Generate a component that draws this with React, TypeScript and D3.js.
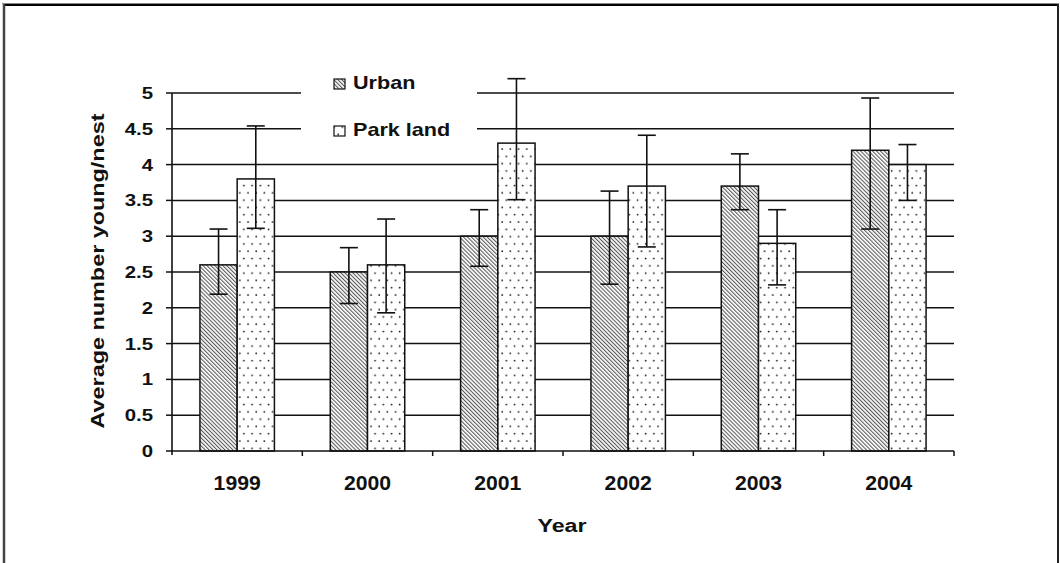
import React from 'react';
import * as d3 from 'd3';

const years = ['1999', '2000', '2001', '2002', '2003', '2004'];
const seriesNames = ['Urban', 'Park land'];
const urbanMean = [2.6, 2.5, 3.0, 3.0, 3.7, 4.2];
const urbanLow = [2.19, 2.06, 2.58, 2.33, 3.37, 3.1];
const urbanHigh = [3.1, 2.84, 3.37, 3.63, 4.15, 4.93];
const parkMean = [3.8, 2.6, 4.3, 3.7, 2.9, 4.0];
const parkLow = [3.11, 1.93, 3.51, 2.85, 2.32, 3.5];
const parkHigh = [4.54, 3.24, 5.2, 4.41, 3.37, 4.28];
const yTicks = [0, 0.5, 1, 1.5, 2, 2.5, 3, 3.5, 4, 4.5, 5];
const yLabels = ['0', '0.5', '1', '1.5', '2', '2.5', '3', '3.5', '4', '4.5', '5'];
const xTitle = 'Year';
const yTitle = 'Average number young/nest';

const W = 1060;
const H = 563;
const FONT = '"Liberation Sans", Arial, sans-serif';

export default function App() {
  const x = d3.scaleBand<string>().domain(years).range([172, 954]).paddingInner(0).paddingOuter(0);
  const xs = d3
    .scaleBand<string>()
    .domain(seriesNames)
    .range([0, x.bandwidth()])
    .paddingInner(0)
    .paddingOuter(0.75);
  const y = d3.scaleLinear().domain([0, 5]).range([451, 93]);

  const series = [
    { name: seriesNames[0], mean: urbanMean, low: urbanLow, high: urbanHigh, fill: 'url(#hatch)' },
    { name: seriesNames[1], mean: parkMean, low: parkLow, high: parkHigh, fill: 'url(#dots)' },
  ];

  const x0 = x.range()[0];
  const x1 = x.range()[1];
  const capW = 18;

  return (
    <svg
      width={W}
      height={H}
      style={{ position: 'absolute', left: 0, top: 0, background: '#fff' }}
      fontFamily={FONT}
    >
      <defs>
        <pattern id="hatch" width="2.8" height="2.8" patternUnits="userSpaceOnUse" patternTransform="rotate(-45)">
          <rect width="2.8" height="2.8" fill="#fff" />
          <line x1="0.6" y1="0" x2="0.6" y2="2.8" stroke="#2a2a2a" strokeWidth="0.85" />
        </pattern>
        <pattern id="dots" width="8.2" height="14.6" patternUnits="userSpaceOnUse">
          <rect width="8.2" height="14.6" fill="#fff" />
          <circle cx="2" cy="3" r="0.9" fill="#111" />
          <circle cx="6.1" cy="10.3" r="0.9" fill="#111" />
        </pattern>
      </defs>

      <rect x={0} y={0} width={W} height={H} fill="#fff" />
      {/* outer frame */}
      <line x1={2} y1={3.5} x2={1059} y2={3.5} stroke="#888" strokeWidth={1} />
      <line x1={3} y1={5} x2={1059} y2={5} stroke="#000" strokeWidth={2} />
      <line x1={4} y1={4} x2={4} y2={H} stroke="#444" strokeWidth={2.5} />
      <line x1={1058} y1={4} x2={1058} y2={H} stroke="#222" strokeWidth={2} />

      {/* gridlines */}
      {yTicks.slice(1).map((t) => (
        <line key={'g' + t} x1={x0} x2={x1} y1={y(t)} y2={y(t)} stroke="#111" strokeWidth={1.5} />
      ))}

      {/* legend */}
      <rect x={301} y={68} width={176} height={82} fill="#fff" />
      {series.map((s, i) => {
        const ly = i === 0 ? 79 : 126;
        return (
          <g key={'leg' + s.name}>
            <rect x={334} y={ly} width={11} height={10} fill={s.fill} stroke="#111" strokeWidth={1.2} />
            <text
              transform={`translate(353,${ly + 9.5}) scale(1.2,1)`}
              fontSize={18}
              fontWeight="bold"
              fill="#111"
            >
              {s.name}
            </text>
          </g>
        );
      })}

      {/* bars */}
      {series.map((s) =>
        years.map((yr, i) => {
          const bx = (x(yr) as number) + (xs(s.name) as number);
          return (
            <rect
              key={'b' + s.name + yr}
              x={bx}
              y={y(s.mean[i])}
              width={xs.bandwidth()}
              height={y(0) - y(s.mean[i])}
              fill={s.fill}
              stroke="#111"
              strokeWidth={1.5}
            />
          );
        })
      )}

      {/* error bars */}
      {series.map((s) =>
        years.map((yr, i) => {
          const cx = (x(yr) as number) + (xs(s.name) as number) + xs.bandwidth() / 2;
          return (
            <g key={'e' + s.name + yr} stroke="#111" strokeWidth={1.6}>
              <line x1={cx} x2={cx} y1={y(s.low[i])} y2={y(s.high[i])} />
              <line x1={cx - capW / 2} x2={cx + capW / 2} y1={y(s.low[i])} y2={y(s.low[i])} />
              <line x1={cx - capW / 2} x2={cx + capW / 2} y1={y(s.high[i])} y2={y(s.high[i])} />
            </g>
          );
        })
      )}

      {/* y axis */}
      <line x1={x0} x2={x0} y1={y(0) + 4} y2={y(5)} stroke="#111" strokeWidth={1.6} />
      {yTicks.map((t, i) => (
        <g key={'yt' + t}>
          <line x1={x0 - 6} x2={x0} y1={y(t)} y2={y(t)} stroke="#111" strokeWidth={1.5} />
          <text
            transform={`translate(153,${y(t) + 6}) scale(1.2,1)`}
            textAnchor="end"
            fontSize={17}
            fontWeight="bold"
            fill="#111"
          >
            {yLabels[i]}
          </text>
        </g>
      ))}

      {/* x axis */}
      <line x1={x0} x2={x1} y1={y(0)} y2={y(0)} stroke="#111" strokeWidth={1.6} />
      {years.map((yr) => (
        <line
          key={'xt' + yr}
          x1={(x(yr) as number) + x.bandwidth()}
          x2={(x(yr) as number) + x.bandwidth()}
          y1={y(0)}
          y2={y(0) + 5}
          stroke="#111"
          strokeWidth={1.5}
        />
      ))}
      {years.map((yr) => (
        <text
          key={'xl' + yr}
          transform={`translate(${(x(yr) as number) + x.bandwidth() / 2},490) scale(1.06,1)`}
          textAnchor="middle"
          fontSize={20}
          fontWeight="bold"
          fill="#111"
        >
          {yr}
        </text>
      ))}

      {/* axis titles */}
      <text
        transform={`translate(562,532) scale(1.22,1)`}
        textAnchor="middle"
        fontSize={19}
        fontWeight="bold"
        fill="#111"
      >
        {xTitle}
      </text>
      <text
        transform={`translate(104,271) rotate(-90) scale(1.3,1)`}
        textAnchor="middle"
        fontSize={18}
        fontWeight="bold"
        fill="#111"
      >
        {yTitle}
      </text>
    </svg>
  );
}
